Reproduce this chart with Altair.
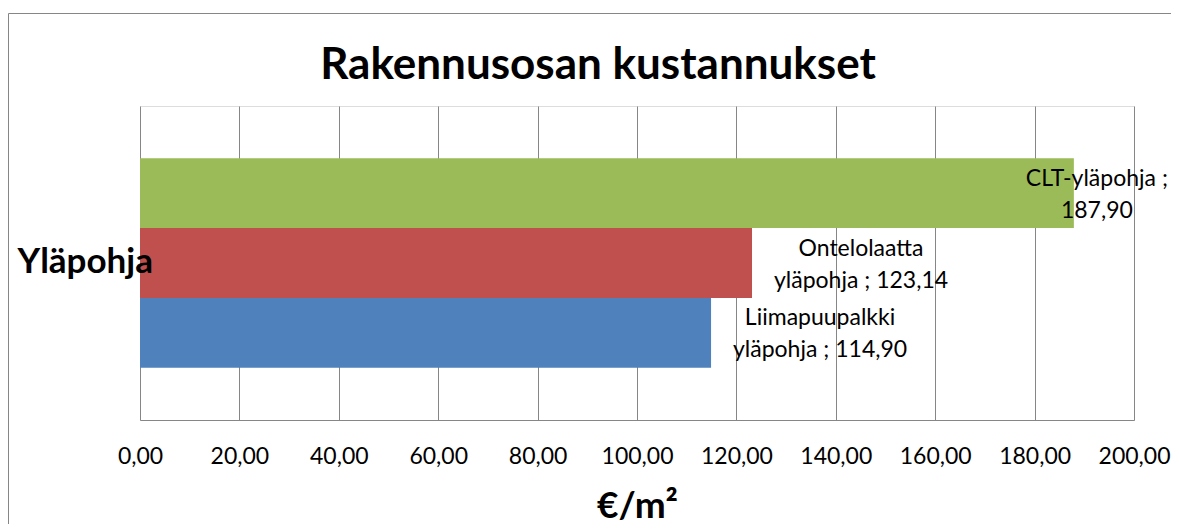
import altair as alt
import pandas as pd

# ---- data ----
categories = ["Yläpohja"]
series = ["CLT-yläpohja", "Ontelolaatta yläpohja", "Liimapuupalkki yläpohja"]
values = [187.90, 123.14, 114.90]
colors = ["#9BBB59", "#C0504D", "#4F81BD"]
x_ticks = [0, 20, 40, 60, 80, 100, 120, 140, 160, 180, 200]
title_text = "Rakennusosan kustannukset"
x_title = "€/m²"


def fi(v):
    return f"{v:.2f}".replace(".", ",")


labels = []
for name, v in zip(series, values):
    if " " in name:
        first, rest = name.split(" ", 1)
        labels.append(f"{first}\n{rest} ; {fi(v)}")
    else:
        labels.append(f"{name} ;\n{fi(v)}")

df = pd.DataFrame({
    "category": categories * len(series),
    "series": series,
    "value": values,
    "label": labels,
})

FONT = "Lato"
GRID = "#868686"
W, H = 994, 314

y_enc = alt.Y(
    "category:N",
    scale=alt.Scale(paddingInner=0, paddingOuter=0),
    axis=alt.Axis(
        title=None, ticks=False, grid=False, domain=False, zindex=1,
        labelFont=FONT, labelFontSize=35, labelFontWeight="bold", labelColor="black",
        labelAlign="left", labelPadding=123, labelBaseline="alphabetic", labelOffset=10,
    ),
)
yoff_enc = alt.YOffset("series:N", scale=alt.Scale(domain=series, paddingInner=0, paddingOuter=0.75))

x_axis = alt.Axis(
    values=x_ticks, grid=True, gridColor=GRID, gridWidth=1, ticks=False,
    domain=True, domainColor=GRID,
    labelExpr="replace(format(datum.value, '.2f'), '.', ',')",
    labelFont=FONT, labelFontSize=23, labelColor="black", labelBaseline="alphabetic",
    labelPadding=43, labelFlush=False, labelOverlap=False,
    title=x_title, titleFont=FONT, titleFontSize=37, titleFontWeight="bold",
    titleColor="black", titleX=W / 2, titleY=97, titleBaseline="alphabetic", titleAlign="center",
)

base = alt.Chart(df).encode(y=y_enc, yOffset=yoff_enc)

bars = base.mark_bar().encode(
    x=alt.X("value:Q", scale=alt.Scale(domain=[0, 200], nice=False), axis=x_axis),
    color=alt.Color("series:N", scale=alt.Scale(domain=series, range=colors), legend=None),
)

text_style = dict(align="center", baseline="alphabetic", dy=-7.5, lineBreak="\n",
                  lineHeight=32, font=FONT, fontSize=23, color="black")

labels_out = base.mark_text(dx=109, **text_style).encode(
    x="value:Q", text="label:N"
).transform_filter(alt.FieldOneOfPredicate(field="series", oneOf=series[1:]))

labels_edge = base.mark_text(dx=23, **text_style).encode(
    x="value:Q", text="label:N"
).transform_filter(alt.FieldEqualPredicate(field="series", equal=series[0]))

border = alt.Chart(pd.DataFrame({"b": [0]})).mark_rect(
    fillOpacity=0, stroke=GRID, strokeWidth=1
).encode(
    x=alt.value(-131.5), x2=alt.value(1300), y=alt.value(-92.5), y2=alt.value(700)
)

chart = alt.layer(border, bars, labels_out, labels_edge).properties(
    width=W,
    height=H,
    autosize=alt.AutoSizeParams(type="none"),
    padding={"left": 132, "top": 98, "right": 37, "bottom": 104},
    title=alt.TitleParams(
        text=title_text, font=FONT, fontSize=44, fontWeight="bold", color="black",
        anchor="middle", frame="group", dx=-39, offset=-75,
    ),
).configure_view(stroke=None).configure(background="white")

chart.save("out.html", embed_options={"renderer": "svg", "actions": False})
